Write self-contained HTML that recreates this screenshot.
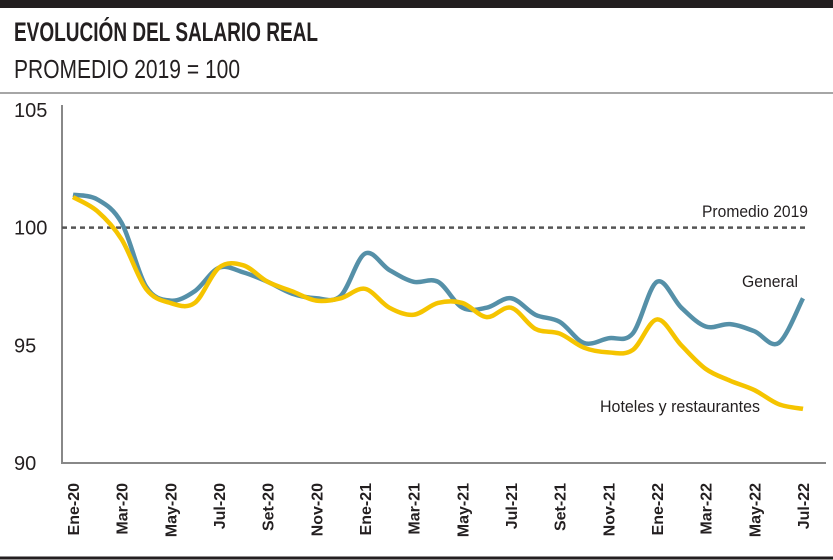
<!DOCTYPE html>
<html><head><meta charset="utf-8"><style>
html,body{margin:0;padding:0;background:#fff}
svg{display:block;font-family:"Liberation Sans Narrow","Liberation Sans",sans-serif}
</style></head><body>
<svg width="833" height="560" viewBox="0 0 833 560">
<rect x="0" y="0" width="833" height="8" fill="#231f20"/>
<text x="14" y="41" font-size="27" font-weight="bold" fill="#231f20" textLength="304" lengthAdjust="spacingAndGlyphs">EVOLUCIÓN DEL SALARIO REAL</text>
<text x="14" y="78" font-size="26" fill="#231f20" textLength="226" lengthAdjust="spacingAndGlyphs">PROMEDIO 2019 = 100</text>
<line x1="0" y1="93" x2="833" y2="93" stroke="#888" stroke-width="1.5"/>
<line x1="0" y1="558" x2="833" y2="558" stroke="#231f20" stroke-width="3"/>
<g id="axes"></g>
<g id="series"></g>
<text x="808" y="217" font-size="17" fill="#231f20" text-anchor="end" textLength="106" lengthAdjust="spacingAndGlyphs">Promedio 2019</text>
<text x="798" y="287" font-size="17" fill="#231f20" text-anchor="end" textLength="56" lengthAdjust="spacingAndGlyphs">General</text>
<text x="760" y="412" font-size="17" fill="#231f20" text-anchor="end" textLength="160" lengthAdjust="spacingAndGlyphs">Hoteles y restaurantes</text>
</svg>
<script>
const months = ["Ene-20","Feb-20","Mar-20","Abr-20","May-20","Jun-20","Jul-20","Ago-20","Set-20","Oct-20","Nov-20","Dic-20","Ene-21","Feb-21","Mar-21","Abr-21","May-21","Jun-21","Jul-21","Ago-21","Set-21","Oct-21","Nov-21","Dic-21","Ene-22","Feb-22","Mar-22","Abr-22","May-22","Jun-22","Jul-22"];
const generalValues = [101.4,101.2,100.2,97.5,96.9,97.3,98.3,98.1,97.7,97.2,97.0,97.1,98.9,98.2,97.7,97.7,96.6,96.6,97.0,96.3,96.0,95.1,95.3,95.5,97.7,96.6,95.8,95.9,95.6,95.1,97.0];
const hotelesValues = [101.3,100.7,99.5,97.4,96.8,96.8,98.3,98.4,97.7,97.3,96.9,97.0,97.4,96.6,96.3,96.8,96.8,96.2,96.6,95.7,95.5,94.9,94.7,94.8,96.1,95.0,94.0,93.5,93.1,92.5,92.3];
const yTicks = [90,95,100,105];
const referenceValue = 100;

const NS="http://www.w3.org/2000/svg";
const x0=73,x1=803,yTop=110,yBot=463,vMin=90,vMax=105;
const xs=i=>x0+(x1-x0)*i/(months.length-1);
const ys=v=>yBot-(v-vMin)/(vMax-vMin)*(yBot-yTop);
function mk(tag,attrs,parent){const e=document.createElementNS(NS,tag);for(const k in attrs)e.setAttribute(k,attrs[k]);parent.appendChild(e);return e;}
const axes=document.getElementById('axes'), series=document.getElementById('series');
let yl=mk('line',{x1:62,y1:105,x2:62,y2:463,stroke:'#888','stroke-width':2},axes);


let xl=mk('line',{x1:61,y1:463,x2:826,y2:463,stroke:'#888','stroke-width':2},axes);


yTicks.forEach(v=>{
  const t=mk('text',{x:14,y:ys(v)+7,'font-size':20,fill:'#231f20'},axes);
  t.textContent=v;
  
  
});
months.forEach((m,i)=>{
  if(i%2) return;
  const x=xs(i)+6;
  const t=mk('text',{x:x,y:483,'font-size':16,'font-weight':'bold',fill:'#231f20','text-anchor':'end',transform:`rotate(-90 ${x} 483)`},axes);
  t.textContent=m;
  
  
});
const ref=mk('line',{x1:62,y1:ys(referenceValue),x2:805,y2:ys(referenceValue),stroke:'#555','stroke-width':2.5,'stroke-dasharray':'5,4'},series);


function smooth(vals){
  const p=vals.map((v,i)=>[xs(i),ys(v)]);
  let d=`M${p[0][0]},${p[0][1]}`;
  for(let i=0;i<p.length-1;i++){
    const a=p[Math.max(0,i-1)],b=p[i],c=p[i+1],e=p[Math.min(p.length-1,i+2)];
    const c1=[b[0]+(c[0]-a[0])/6,b[1]+(c[1]-a[1])/6],c2=[c[0]-(e[0]-b[0])/6,c[1]-(e[1]-b[1])/6];
    d+=` C${c1[0]},${c1[1]} ${c2[0]},${c2[1]} ${c[0]},${c[1]}`;
  }
  return d;
}
const g=mk('path',{d:smooth(generalValues),fill:'none',stroke:'#5590a8','stroke-width':4.5,'stroke-linejoin':'round'},series);


const h=mk('path',{d:smooth(hotelesValues),fill:'none',stroke:'#f5c400','stroke-width':4.5,'stroke-linejoin':'round'},series);


</script>
</body></html>
